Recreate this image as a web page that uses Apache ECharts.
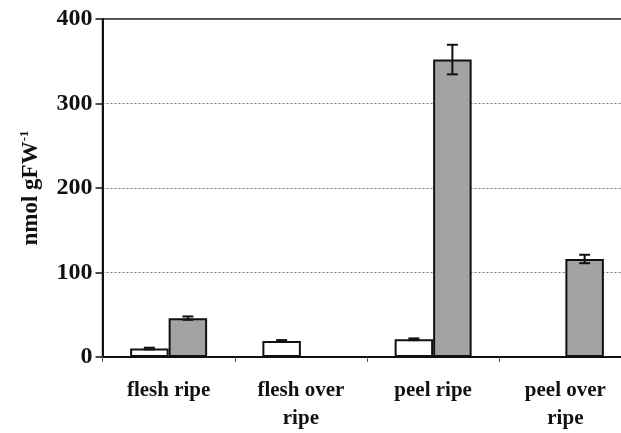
<!DOCTYPE html>
<html>
<head>
<meta charset="utf-8">
<script src="https://cdn.jsdelivr.net/npm/echarts@6/dist/echarts.min.js"></script>
<style>html,body{margin:0;padding:0;background:#fff;overflow:hidden}#c{width:632px;height:433px}</style>
</head>
<body>
<div id="c"></div>
<script>
var categories = ['flesh ripe', 'flesh over\nripe', 'peel ripe', 'peel over\nripe'];
var whiteValues = [10, 19, 21, null];
var whiteErrors = [1, 1, 1, null];
var greyValues = [46, null, 352, 116];
var greyErrors = [2, null, 17.5, 5];
var yTicks = [0, 100, 200, 300, 400];

var BAR_W = 38.5;
var FONT = '"Liberation Serif", "Times New Roman", serif';

function errorData(vals, errs) {
  var out = [];
  for (var i = 0; i < vals.length; i++) {
    if (vals[i] != null && errs[i] != null) out.push([i, vals[i], errs[i]]);
  }
  return out;
}

function makeErrRender(offset) {
  return function (params, api) {
    var i = api.value(0), v = api.value(1), e = api.value(2);
    var top = api.coord([i, v + e]);
    var bot = api.coord([i, v - e]);
    var x = top[0] + offset;
    var cap = 5.5;
    var st = { stroke: '#111', lineWidth: 2 };
    return {
      type: 'group',
      children: [
        { type: 'line', shape: { x1: x, y1: top[1], x2: x, y2: bot[1] }, style: st },
        { type: 'line', shape: { x1: x - cap, y1: top[1], x2: x + cap, y2: top[1] }, style: st },
        { type: 'line', shape: { x1: x - cap, y1: bot[1], x2: x + cap, y2: bot[1] }, style: st }
      ]
    };
  };
}

var chart = echarts.init(document.getElementById('c'), null, { renderer: 'canvas' });
chart.setOption({
  animation: false,
  backgroundColor: '#fff',
  grid: {
    left: 102.5, top: 19, bottom: 72, right: 0.5,
    show: true, borderColor: '#111', borderWidth: 1.5, backgroundColor: 'transparent'
  },
  xAxis: {
    type: 'category',
    data: categories,
    axisLine: { lineStyle: { color: '#111', width: 2 } },
    axisTick: { show: true, length: 5, lineStyle: { color: '#555', width: 1 } },
    axisLabel: {
      color: '#111', fontFamily: FONT, fontWeight: 'bold', fontSize: 21,
      lineHeight: 28, margin: 20, interval: 0
    },
    splitLine: { show: false }
  },
  yAxis: {
    type: 'value',
    min: yTicks[0], max: yTicks[yTicks.length - 1], interval: 100,
    axisLine: { show: true, lineStyle: { color: '#111', width: 2 } },
    axisTick: { show: true, length: 7, lineStyle: { color: '#111', width: 1.5 } },
    axisLabel: { color: '#111', fontFamily: FONT, fontWeight: 'bold', fontSize: 24, margin: 10 },
    splitLine: { show: true, lineStyle: { color: '#777', type: [2, 2], width: 1 } },
    name: '{a|nmol gFW}{s|-1}',
    nameLocation: 'middle',
    nameRotate: 90,
    nameGap: 58,
    nameTextStyle: {
      rich: {
        a: { fontFamily: FONT, fontWeight: 'bold', fontSize: 23, color: '#111', lineHeight: 26 },
        s: { fontFamily: FONT, fontWeight: 'bold', fontSize: 13, color: '#111', verticalAlign: 'top', lineHeight: 26 }
      }
    }
  },
  series: [
    {
      type: 'bar', data: whiteValues, barWidth: BAR_W, barGap: '0%',
      itemStyle: { color: '#fff', borderColor: '#111', borderWidth: 2 }
    },
    {
      type: 'bar', data: greyValues, barWidth: BAR_W, barGap: '0%',
      itemStyle: { color: '#a3a3a3', borderColor: '#111', borderWidth: 2 }
    },
    {
      type: 'custom', renderItem: makeErrRender(-BAR_W / 2),
      data: errorData(whiteValues, whiteErrors), z: 10
    },
    {
      type: 'custom', renderItem: makeErrRender(BAR_W / 2),
      data: errorData(greyValues, greyErrors), z: 10
    }
  ]
});
</script>
</body>
</html>
